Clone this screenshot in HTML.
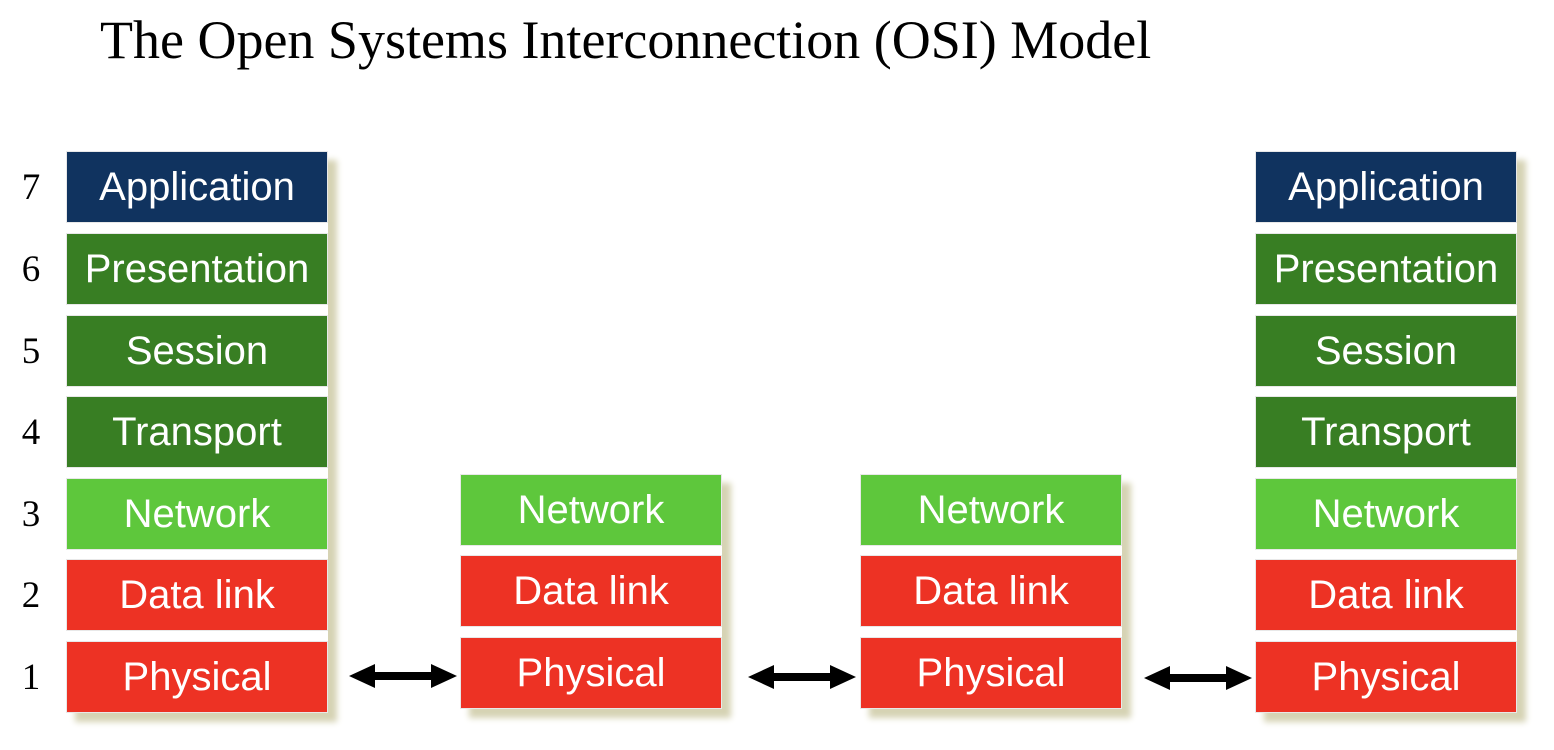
<!DOCTYPE html>
<html><head><style>
body{margin:0;width:1554px;height:750px;background:#fff;position:relative;overflow:hidden;font-family:"Liberation Sans",sans-serif}
.t{position:absolute;left:100px;top:9px;font-family:"Liberation Serif",serif;font-size:54px;color:#000;white-space:nowrap}
.st{position:absolute;width:262px;box-shadow:9px 9px 6px #d6d3b4;background:#fff}
.b{position:absolute;left:0;width:262px;height:72px;color:#fff;font-size:40px;text-align:center;line-height:70px;box-sizing:border-box;border:1px solid #e8e8e8}
.a{background:#10335f}.p{background:#387e23}.n{background:#5ec73c}.r{background:#ed3224}
.num{position:absolute;left:16px;width:30px;text-align:center;font-family:"Liberation Serif",serif;font-size:37px}
</style></head><body>
<div class="t">The Open Systems Interconnection (OSI) Model</div>

<div class="st" style="left:66px;top:151px;height:562px">
<div class="b a" style="top:0">Application</div>
<div class="b p" style="top:82px">Presentation</div>
<div class="b p" style="top:164px">Session</div>
<div class="b p" style="top:245px">Transport</div>
<div class="b n" style="top:327px">Network</div>
<div class="b r" style="top:408px">Data link</div>
<div class="b r" style="top:490px">Physical</div>
</div>
<div class="st" style="left:1255px;top:151px;height:562px">
<div class="b a" style="top:0">Application</div>
<div class="b p" style="top:82px">Presentation</div>
<div class="b p" style="top:164px">Session</div>
<div class="b p" style="top:245px">Transport</div>
<div class="b n" style="top:327px">Network</div>
<div class="b r" style="top:408px">Data link</div>
<div class="b r" style="top:490px">Physical</div>
</div>
<div class="st" style="left:460px;top:474px;height:235px">
<div class="b n" style="top:0">Network</div>
<div class="b r" style="top:81px">Data link</div>
<div class="b r" style="top:163px">Physical</div>
</div>
<div class="st" style="left:860px;top:474px;height:235px">
<div class="b n" style="top:0">Network</div>
<div class="b r" style="top:81px">Data link</div>
<div class="b r" style="top:163px">Physical</div>
</div>

<div class="num" style="top:166px">7</div>
<div class="num" style="top:248px">6</div>
<div class="num" style="top:330px">5</div>
<div class="num" style="top:411px">4</div>
<div class="num" style="top:493px">3</div>
<div class="num" style="top:574px">2</div>
<div class="num" style="top:656px">1</div>

<svg style="position:absolute;left:0;top:0" width="1554" height="750">
<g fill="#000">
<polygon points="349,676 375,664 375,672 431,672 431,664 457,676 431,688 431,680 375,680 375,688"/>
<polygon points="748,677 774,665 774,673 830,673 830,665 856,677 830,689 830,681 774,681 774,689"/>
<polygon points="1144,678 1170,666 1170,674 1226,674 1226,666 1252,678 1226,690 1226,682 1170,682 1170,690"/>
</g></svg>
</body></html>
